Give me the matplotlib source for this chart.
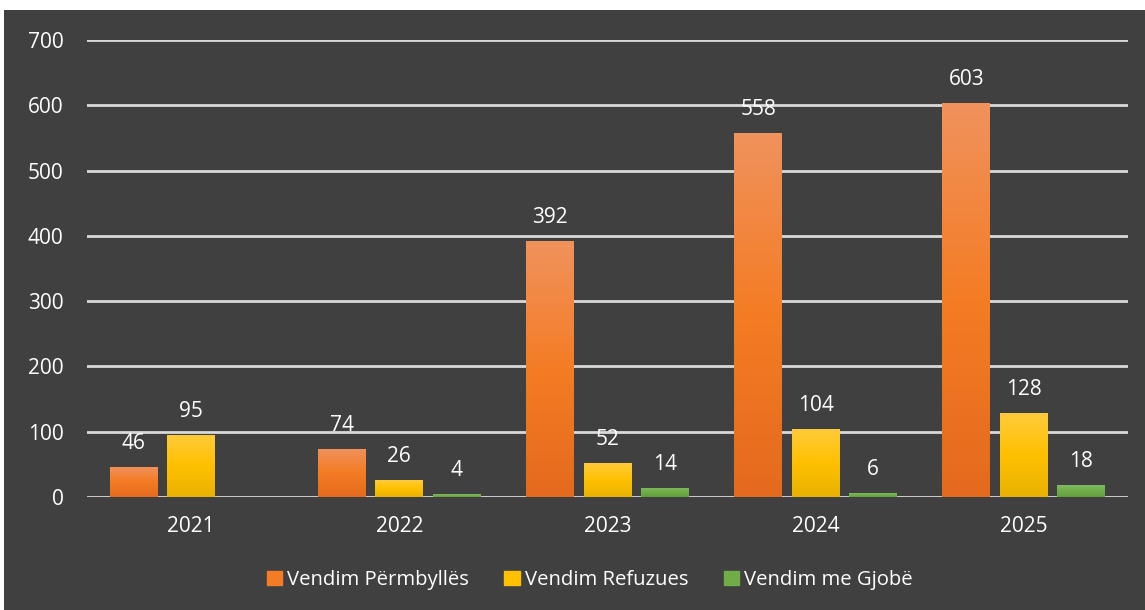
import matplotlib
matplotlib.use("Agg")
import matplotlib.pyplot as plt
import matplotlib.patches as mpatches
from matplotlib.colors import LinearSegmentedColormap
import numpy as np

# ── Data ────────────────────────────────────────────────────────────────
years = ["2021", "2022", "2023", "2024", "2025"]
perm = [46, 74, 392, 558, 603]
refuz = [95, 26, 52, 104, 128]
gjobe = [None, 4, 14, 6, 18]
series_names = ["Vendim Përmbyllës", "Vendim Refuzues", "Vendim me Gjobë"]

# ── Theme ───────────────────────────────────────────────────────────────
PANEL = "#404040"
GRID = "#D9D9D9"
WHITE = "#FFFFFF"
ORANGE = ("#F0925C", "#F47C24", "#E56A1E")
YELLOW = ("#FFCB3A", "#FFC000", "#E8B200")
GREEN = ("#7DBB63", "#70AD47", "#62A03C")

plt.rcParams.update({"font.family": ["Open Sans", "DejaVu Sans"], "font.size": 15})

fig = plt.figure(figsize=(11.45, 6.1), dpi=100, facecolor="white")

# dark chart panel behind everything
bg = fig.add_axes([4 / 1145, 0, 1 - 4 / 1145, 1 - 10 / 610], zorder=-1)
bg.set_facecolor(PANEL)
bg.set_xticks([])
bg.set_yticks([])
for s in bg.spines.values():
    s.set_visible(False)

ax = fig.add_axes([87 / 1145, (610 - 497) / 610, (1128 - 87) / 1145, (497 - 40) / 610], zorder=1)
ax.set_facecolor("none")
for s in ax.spines.values():
    s.set_visible(False)
ax.set_yticks(range(0, 701, 100))
ax.grid(axis="y", color=GRID, linewidth=2, zorder=0)
ax.tick_params(length=0, colors=WHITE, labelsize=15)
ax.tick_params(axis="y", pad=17)
ax.tick_params(axis="x", pad=14)
ax.set_xticks(range(len(years)))
ax.set_xticklabels(years)


def grad_cmap(cols):
    return LinearSegmentedColormap.from_list("g", [cols[2], cols[1], cols[0]])


x = np.arange(len(years))
w = 0.23
off = 0.276
grad = np.linspace(1, 0, 100).reshape(-1, 1)
for k, (vals, cols) in enumerate([(perm, ORANGE), (refuz, YELLOW), (gjobe, GREEN)]):
    cmap = grad_cmap(cols)
    for i, v in enumerate(vals):
        if v is None:
            continue
        xc = x[i] + (k - 1) * off
        bar = ax.bar(xc, v, w, color=cols[1], edgecolor="none", zorder=2)[0]
        im = ax.imshow(grad, extent=(xc - w / 2, xc + w / 2, 0, v), aspect="auto",
                       cmap=cmap, origin="upper", zorder=3)
        im.set_clip_path(bar)
        ax.annotate(str(v), (xc, v), xytext=(0, 18), textcoords="offset pixels",
                    ha="center", va="baseline", color=WHITE, fontsize=15, zorder=4)

ax.set_xlim(-0.5, len(years) - 0.5)
ax.set_ylim(0, 700)

handles = [mpatches.Patch(color=c[1]) for c in (ORANGE, YELLOW, GREEN)]
fig.legend(handles, series_names, loc="center", bbox_to_anchor=(0.515, 1 - 580 / 610),
           ncol=3, frameon=False, labelcolor=WHITE, fontsize=14.6,
           handlelength=0.75, handleheight=0.75, handletextpad=0.25, columnspacing=1.75)

fig.savefig("out.png", dpi=100, facecolor="white")
